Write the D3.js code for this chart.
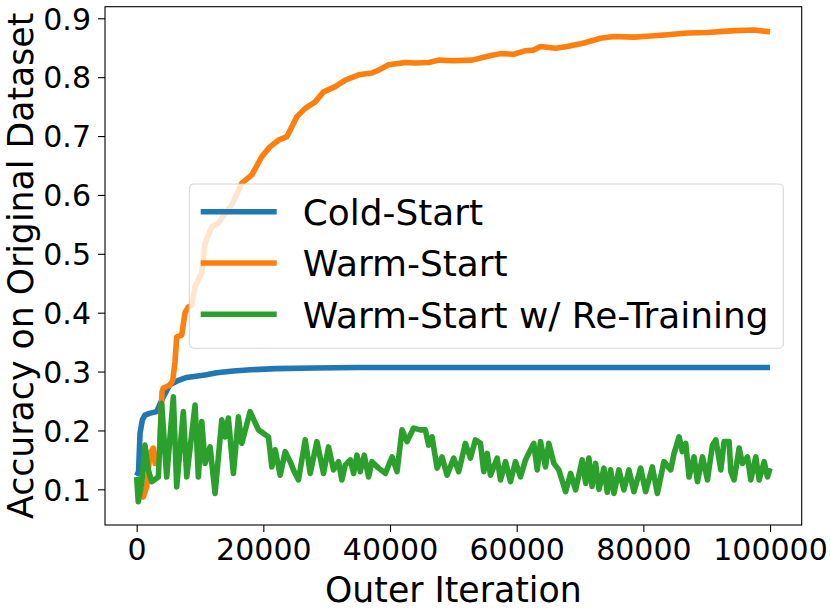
<!DOCTYPE html>
<meta charset="utf-8">
<script src="https://d3js.org/d3.v7.min.js"></script>
<body style="margin:0;background:#fff">
<div id="my_dataviz"></div>
</body>
<style>
  text { font-family: "DejaVu Sans", sans-serif; fill: #000; }
</style>
<script>

// ---- data ----
var coldIter = [0, 300, 530, 900, 1310, 2000, 3160, 3700, 4200, 5260, 6400, 7900, 10800, 12650, 15270, 18000, 22000, 28000, 35000, 50000, 100000];
var coldAcc  = [0.123, 0.13, 0.195, 0.218, 0.226, 0.229, 0.232, 0.245, 0.257, 0.278, 0.284, 0.290, 0.294, 0.298, 0.301, 0.303, 0.305, 0.306, 0.307, 0.307, 0.307];

var warmIter = [0, 500, 1050, 1580, 2100, 2630, 2900, 3600, 4000, 4200, 5260, 5700, 6060, 6320, 7110, 7640, 8160, 8700, 9220, 10000, 10280, 10800, 11860, 12900, 13900, 15020, 16600, 18180, 19760, 21080, 22390, 23710, 25300, 26610, 28190, 29500, 31350, 32930, 35040, 37150, 38200, 39780, 42420, 44000, 46100, 47690, 50000, 52960, 55590, 57440, 59540, 61390, 62700, 63760, 66140, 67980, 70610, 73250, 75350, 78510, 81150, 83790, 86950, 90120, 94330, 97480, 100000];
var warmAcc  = [0.12, 0.10, 0.087, 0.104, 0.161, 0.170, 0.144, 0.16, 0.265, 0.272, 0.277, 0.285, 0.317, 0.359, 0.362, 0.40, 0.41, 0.412, 0.444, 0.462, 0.467, 0.518, 0.546, 0.552, 0.568, 0.583, 0.620, 0.634, 0.665, 0.682, 0.693, 0.699, 0.733, 0.747, 0.758, 0.775, 0.784, 0.795, 0.804, 0.807, 0.812, 0.821, 0.825, 0.824, 0.825, 0.829, 0.828, 0.829, 0.836, 0.840, 0.839, 0.845, 0.846, 0.852, 0.849, 0.852, 0.858, 0.866, 0.869, 0.868, 0.870, 0.872, 0.875, 0.876, 0.879, 0.880, 0.877];

var retrainIter = [0, 250, 790, 1310, 1830, 2370, 3420, 3950, 4740, 5790, 6320, 7370, 7900, 9220, 9740, 10280, 10800, 11590, 12380, 13440, 13960, 14480, 15270, 16060, 16600, 17910, 19230, 20020, 20810, 21340, 21870, 22660, 23450, 24240, 24760, 25550, 26610, 27400, 28460, 29500, 30290, 31080, 31870, 32400, 32930, 33720, 34250, 34780, 35300, 35940, 36620, 37150, 38200, 39260, 40320, 41110, 41900, 42690, 43730, 44790, 45580, 46100, 46640, 47430, 48220, 49010, 50060, 50850, 51900, 52700, 53490, 54280, 54800, 55340, 55860, 56920, 57440, 58230, 59020, 59810, 60600, 61390, 62180, 62700, 63240, 63760, 64550, 65070, 65870, 66650, 67720, 68510, 69300, 70350, 70900, 71400, 71900, 72460, 73000, 73770, 74300, 74830, 75350, 76140, 76930, 77720, 78510, 79570, 80360, 81420, 82210, 83250, 84320, 84850, 85640, 86160, 86690, 87210, 88000, 88540, 89330, 90120, 90910, 91450, 92230, 92750, 93540, 93810, 94330, 95120, 95640, 96440, 96960, 97750, 98280, 99070, 99600, 100000];
var retrainAcc  = [0.121, 0.079, 0.110, 0.175, 0.133, 0.113, 0.121, 0.246, 0.121, 0.257, 0.104, 0.232, 0.121, 0.243, 0.121, 0.215, 0.144, 0.172, 0.093, 0.218, 0.189, 0.221, 0.127, 0.223, 0.178, 0.232, 0.201, 0.195, 0.189, 0.138, 0.167, 0.124, 0.164, 0.147, 0.133, 0.116, 0.184, 0.127, 0.181, 0.127, 0.172, 0.133, 0.147, 0.116, 0.141, 0.150, 0.127, 0.158, 0.130, 0.158, 0.121, 0.147, 0.136, 0.127, 0.155, 0.130, 0.201, 0.181, 0.204, 0.201, 0.201, 0.175, 0.189, 0.136, 0.155, 0.124, 0.153, 0.130, 0.178, 0.153, 0.184, 0.178, 0.130, 0.161, 0.124, 0.153, 0.116, 0.147, 0.113, 0.147, 0.121, 0.150, 0.167, 0.178, 0.133, 0.181, 0.138, 0.178, 0.144, 0.133, 0.096, 0.127, 0.099, 0.150, 0.110, 0.153, 0.105, 0.144, 0.100, 0.136, 0.095, 0.133, 0.093, 0.133, 0.099, 0.133, 0.096, 0.136, 0.096, 0.138, 0.093, 0.147, 0.133, 0.161, 0.189, 0.164, 0.178, 0.121, 0.155, 0.113, 0.155, 0.116, 0.175, 0.184, 0.133, 0.181, 0.181, 0.130, 0.116, 0.170, 0.144, 0.155, 0.116, 0.155, 0.116, 0.147, 0.121, 0.136];

var xTicks = [0, 20000, 40000, 60000, 80000, 100000];
var yTicks = [0.1, 0.2, 0.3, 0.4, 0.5, 0.6, 0.7, 0.8, 0.9];
var seriesNames = ["Cold-Start", "Warm-Start", "Warm-Start w/ Re-Training"];
var seriesColors = ["#1f77b4", "#ff7f0e", "#2ca02c"];

// ---- layout ----
var margin = {top: 6.7, right: 28.3, bottom: 86, left: 105},
    width = 830 - margin.left - margin.right,
    height = 611 - margin.top - margin.bottom;

var svg = d3.select("#my_dataviz")
  .append("svg")
  .attr("width", 830)
  .attr("height", 611)
  .append("g")
  .attr("transform", "translate(" + margin.left + "," + margin.top + ")");

var x = d3.scaleLinear().domain([-5000, 105000]).range([0, width]);
var y = d3.scaleLinear().domain([0.0394, 0.9197]).range([height, 0]);

// lines
var line = d3.line()
  .x(function(d) { return x(d[0]); })
  .y(function(d) { return y(d[1]); });

var series = [
  d3.zip(coldIter, coldAcc),
  d3.zip(warmIter, warmAcc),
  d3.zip(retrainIter, retrainAcc)
];

series.forEach(function(s, i) {
  svg.append("path")
    .datum(s)
    .attr("fill", "none")
    .attr("stroke", seriesColors[i])
    .attr("stroke-width", 5.6)
    .attr("stroke-linejoin", "round")
    .attr("d", line);
});

// axes
var xAxis = svg.append("g")
  .attr("transform", "translate(0," + height + ")")
  .call(d3.axisBottom(x).tickValues(xTicks).tickFormat(d3.format("d")).tickSize(7).tickPadding(5));
var yAxis = svg.append("g")
  .call(d3.axisLeft(y).tickValues(yTicks).tickFormat(d3.format(".1f")).tickSize(7).tickPadding(7));

[xAxis, yAxis].forEach(function(a) {
  a.select(".domain").remove();
  a.selectAll("line").attr("stroke", "#000").attr("stroke-width", 1.1);
  a.selectAll("text").style("font-size", "30px").attr("fill", "#000");
});
xAxis.selectAll("text").attr("dy", "0.76em");
yAxis.selectAll("text").attr("dy", "0.36em");

// frame
svg.append("rect")
  .attr("width", width)
  .attr("height", height)
  .attr("fill", "none")
  .attr("stroke", "#000")
  .attr("stroke-width", 1.1);

// axis labels
svg.append("text")
  .attr("x", width / 2)
  .attr("y", height + 77)
  .attr("text-anchor", "middle")
  .style("font-size", "34.7px")
  .text("Outer Iteration");

svg.append("text")
  .attr("transform", "translate(" + (32.5 - margin.left) + "," + (height / 2) + ") rotate(-90)")
  .attr("text-anchor", "middle")
  .style("font-size", "34.7px")
  .text("Accuracy on Original Dataset");

// legend
var legend = svg.append("g")
  .attr("transform", "translate(" + (189.3 - margin.left) + "," + (184 - margin.top) + ")");

legend.append("rect")
  .attr("width", 594)
  .attr("height", 164.3)
  .attr("rx", 4.5)
  .attr("fill", "#fff")
  .attr("fill-opacity", 0.8)
  .attr("stroke", "#ccc")
  .attr("stroke-opacity", 0.8)
  .attr("stroke-width", 1.1);

seriesNames.forEach(function(name, i) {
  var ly = 27.7 + i * 51.3;
  legend.append("line")
    .attr("x1", 11.4).attr("x2", 87.4)
    .attr("y1", ly).attr("y2", ly)
    .attr("stroke", seriesColors[i])
    .attr("stroke-width", 5.6);
  legend.append("text")
    .attr("x", 113.4)
    .attr("y", ly + 13.3)
    .style("font-size", "35.9px")
    .text(name);
});

</script>
